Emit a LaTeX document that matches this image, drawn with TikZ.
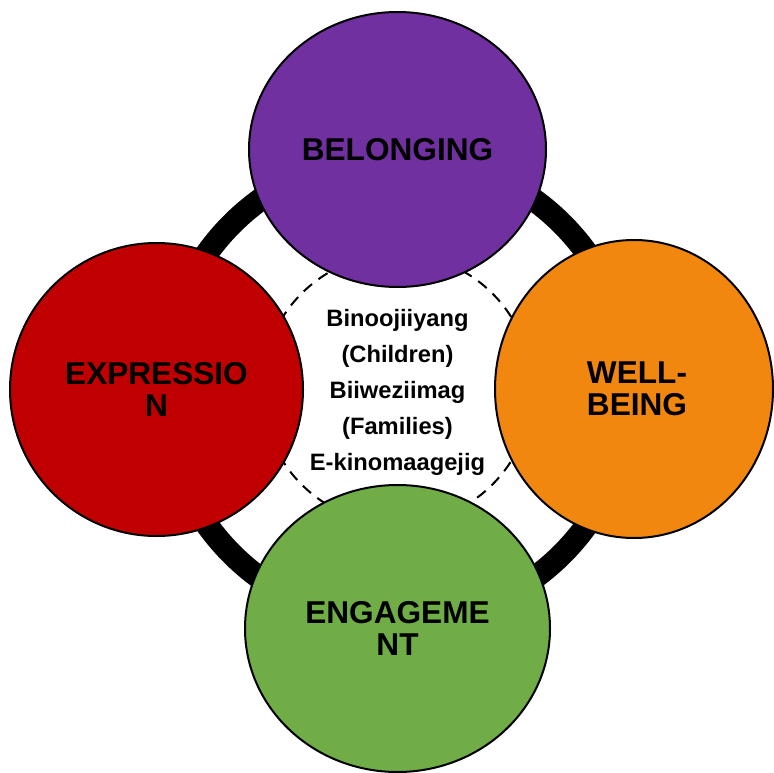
\documentclass[tikz,border=0pt]{standalone}
\usepackage{fontspec}
\setmainfont{Liberation Sans}
\usetikzlibrary{shapes.geometric}
\definecolor{cpurple}{HTML}{7030A0}
\definecolor{cred}{HTML}{C00000}
\definecolor{corange}{HTML}{F1870F}
\definecolor{cgreen}{HTML}{70AD47}
\begin{document}
\begin{tikzpicture}[x=1pt,y=-1pt,
  petal/.style={ellipse, draw=black, line width=2pt, inner sep=0pt, align=center,
    font=\fontsize{31.6}{32}\selectfont\bfseries},
  ringstyle/.style={circle, draw=black, line width=23pt, inner sep=0pt},
  dashring/.style={circle, draw=black, line width=2pt, dash pattern=on 11pt off 8pt, inner sep=0pt},
  centertext/.style={align=center, inner sep=0pt, font=\fontsize{23.7}{36}\selectfont\bfseries}]
\useasboundingbox (0,0) rectangle (774,773);
\node[ringstyle, minimum size=467pt] (ring) at (397,389) {};
\node[dashring, minimum size=270pt] (dash) at (397,389) {};
\node[centertext] (core) at (397.5,392) {Binoojiiyang\\(Children)\\Biiweziimag\\(Families)\\E-kinomaagejig};
\node[petal, fill=cpurple, minimum width=297pt, minimum height=275pt] (belonging) at (397.5,149.5) {BELONGING};
\node[petal, fill=cred, minimum width=293pt, minimum height=293pt] (expression) at (156.5,389.5) {EXPRESSIO\\N};
\node[petal, fill=corange, minimum width=278pt, minimum height=298pt] (wellbeing) at (634,389) {\hspace*{6pt}WELL-\\\hspace*{6pt}BEING};
\node[petal, fill=cgreen, minimum width=305pt, minimum height=287pt] (engagement) at (397.5,628.5) {ENGAGEME\\NT};
\end{tikzpicture}
\end{document}
